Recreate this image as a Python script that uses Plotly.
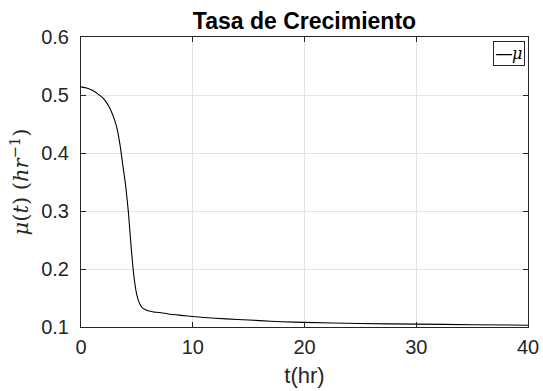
import plotly.graph_objects as go

# Data
t_hr = [0, 0.5, 1, 1.5, 2, 2.5, 3, 3.25, 3.5, 3.75, 4, 4.25, 4.5, 4.75, 5, 5.25,
        5.5, 5.75, 6, 6.5, 7, 8, 9, 10, 12, 14, 16, 18, 20, 25, 30, 35, 40]
mu = [0.514, 0.512, 0.508, 0.502, 0.494, 0.480, 0.457, 0.440, 0.413, 0.378, 0.343,
      0.296, 0.235, 0.185, 0.155, 0.140, 0.133, 0.130, 0.128, 0.126, 0.125, 0.122,
      0.120, 0.118, 0.115, 0.113, 0.111, 0.109, 0.108, 0.106, 0.105, 0.104, 0.103]

x_ticks = [0, 10, 20, 30, 40]
y_ticks = [0.1, 0.2, 0.3, 0.4, 0.5, 0.6]

title_text = "Tasa de Crecimiento"
x_label = "t(hr)"
y_label = "<i>μ</i>(<i>t</i>) (<i>hr</i><sup>−1</sup>)"
legend_name = "μ"

AX = "#262626"
GRID = "#e3e3e3"
FONT = "Liberation Sans, Arial, Helvetica, sans-serif"
SERIF = "DejaVu Serif, Liberation Serif, serif"

fig = go.Figure()
fig.add_trace(go.Scatter(x=t_hr, y=mu, mode="lines", name=legend_name,
                         line=dict(color="black", width=1.1, shape="spline", smoothing=0.6),
                         showlegend=False))

axis_common = dict(showline=True, linecolor=AX, linewidth=1, mirror="ticks",
                   ticks="inside", ticklen=5, tickcolor=AX, showgrid=True,
                   gridcolor=GRID, gridwidth=1, zeroline=False, automargin=False,
                   tickfont=dict(family=FONT, size=20, color=AX))

fig.update_layout(
    width=543, height=391,
    margin=dict(l=81, r=15, t=37, b=64, autoexpand=False),
    paper_bgcolor="white", plot_bgcolor="white",
    title=dict(text="<b>" + title_text + "</b>", x=(81 + 528) / 2 / 543, xanchor="center",
               xref="container", yref="container",
               y=1 - 21 / 391, yanchor="middle",
               font=dict(family=FONT, size=23, color="black")),
    xaxis=dict(range=[0, 40], tickvals=x_ticks, ticktext=[str(v) for v in x_ticks],
               ticklabelstandoff=2,
               title=dict(text=x_label, font=dict(family=FONT, size=22, color=AX), standoff=10),
               **axis_common),
    yaxis=dict(range=[0.1, 0.6], tickvals=y_ticks, ticktext=[f"{v:.1f}" for v in y_ticks],
               ticklabelstandoff=7,
               title=dict(text=y_label, font=dict(family=SERIF, size=21, color=AX), standoff=6),
               **axis_common),
)

# Legend box (MATLAB style, compact)
fig.add_annotation(xref="paper", yref="paper", x=0.993, y=0.985, xanchor="right", yanchor="top",
                   text="<span style='font-family:Liberation Sans'>—</span><i>" + legend_name + "</i>",
                   showarrow=False, font=dict(family=SERIF, size=16, color="black"),
                   bordercolor=AX, borderwidth=1, borderpad=2, bgcolor="white")

fig.write_html("out.html", config={"displayModeBar": False},
               post_script="document.body.style.margin='0';")
